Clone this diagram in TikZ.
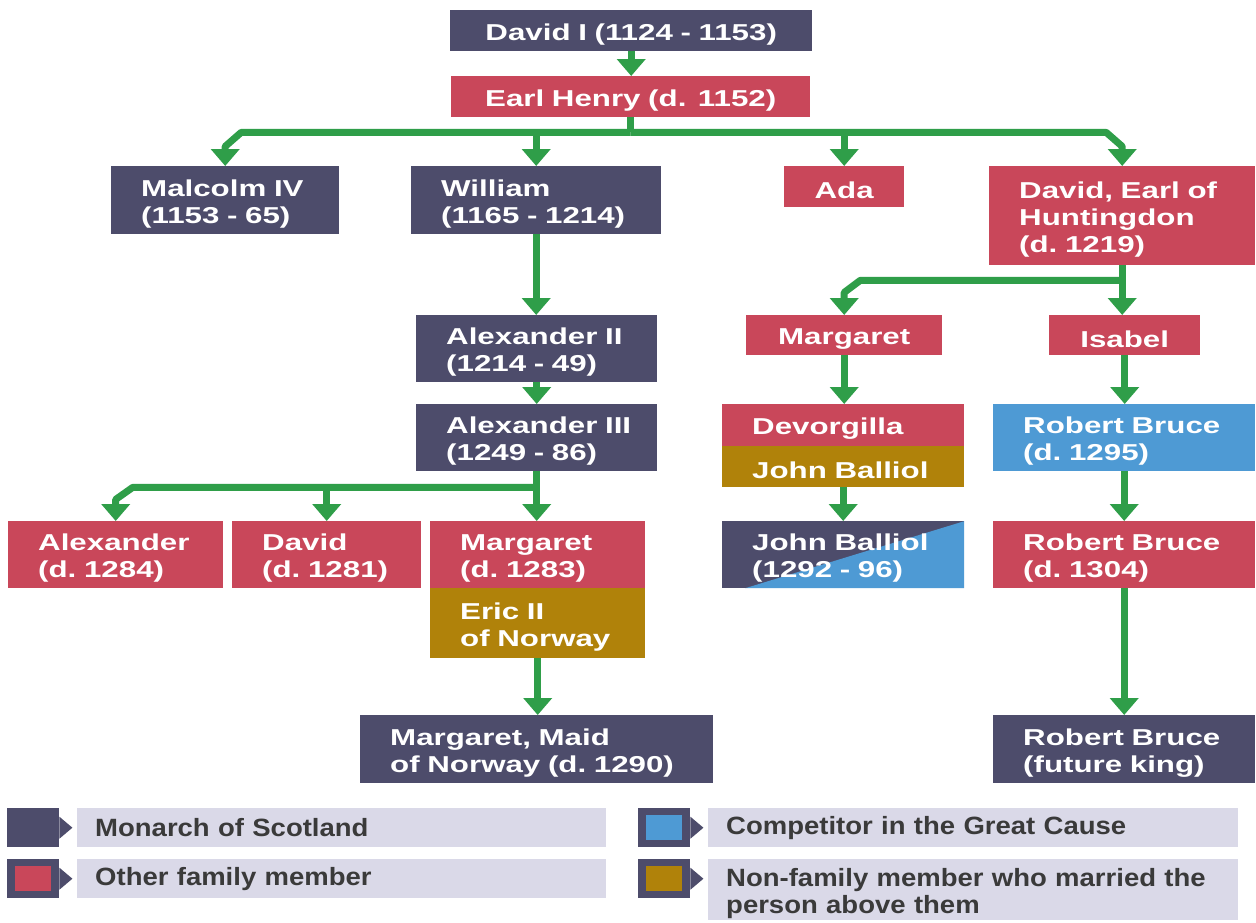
\documentclass[tikz,border=0pt]{standalone}
\usepackage{fontspec}
\newfontfamily\boxfont{Liberation Sans}[FakeStretch=1.36]
\newfontfamily\legfont{Liberation Sans}[FakeStretch=1.1]
\usetikzlibrary{arrows.meta,calc}
\definecolor{navy}{HTML}{4D4C6B}
\definecolor{fam}{HTML}{C9475A}
\definecolor{comp}{HTML}{4E9AD4}
\definecolor{gold}{HTML}{B0820A}
\definecolor{grn}{HTML}{2F9E49}
\definecolor{lav}{HTML}{DAD9E8}
\definecolor{legtext}{HTML}{3A3A3A}
\tikzset{
  pbox/.style={rectangle, anchor=north west, inner xsep=30pt, inner ysep=0pt, text=white,
    font=\boxfont\bfseries\fontsize{23}{27}\selectfont, align=left,
    execute at begin node={\rule{0pt}{24pt}}},
  cbox/.style={pbox, align=center, inner xsep=0pt},
  conn/.style={draw=grn, line width=7pt, line join=round},
  arr/.style={conn, -{Triangle[width=28pt,length=17pt]}},
  legmark/.style={rectangle, anchor=north west, fill=navy, minimum width=52pt, minimum height=39pt, inner sep=0pt},
  inner/.style={path picture={\fill[#1] ([shift={(8pt,-7pt)}]path picture bounding box.north west) rectangle ([shift={(-8pt,7pt)}]path picture bounding box.south east);}},
  leglab/.style={rectangle, anchor=north west, fill=lav, inner xsep=18pt, inner ysep=0pt, text=legtext,
    font=\legfont\bfseries\fontsize{25}{27}\selectfont, align=left},
}
\begin{document}
\begin{tikzpicture}[x=1pt,y=-1pt]
\useasboundingbox[fill=white] (0,0) rectangle (1256,922);
% ---- people ----
\node[cbox, fill=navy, text width=362pt, minimum height=41pt] (davidI) at (450,10) {David I (1124 - 1153)};
\node[cbox, fill=fam, text width=359pt, minimum height=41pt] (henry) at (451,76) {Earl Henry (d. 1152)};
\node[pbox, fill=navy, text width=168pt, minimum height=68pt] (malcolm) at (111,166) {Malcolm~IV\\(1153~-~65)};
\node[pbox, fill=navy, text width=190pt, minimum height=68pt] (william) at (411,166) {William\\(1165~-~1214)};
\node[cbox, fill=fam, text width=120pt, minimum height=41pt] (ada) at (784,166) {Ada};
\node[pbox, fill=fam, text width=206pt, minimum height=99pt] (hunt) at (989,166) {David,~Earl~of\\Huntingdon\\(d.~1219)};
\node[cbox, fill=fam, text width=196pt, minimum height=40pt] (margA) at (746,315) {Margaret};
\node[cbox, fill=fam, text width=151pt, minimum height=40pt] (isabel) at (1049,315) {Isabel};
\node[pbox, fill=navy, text width=181pt, minimum height=67pt] (alex2) at (416,315) {Alexander~II\\(1214~-~49)};
\node[pbox, fill=navy, text width=181pt, minimum height=67pt] (alex3) at (416,404) {Alexander~III\\(1249~-~86)};
\node[pbox, fill=fam, text width=182pt, minimum height=42pt] (devor) at (722,404) {Devorgilla};
\node[pbox, fill=gold, text width=182pt, minimum height=41pt] (jb1) at (722,446) {John~Balliol};
\node[pbox, fill=comp, text width=202pt, minimum height=67pt] (rb1) at (993,404) {Robert~Bruce\\(d.~1295)};
\node[pbox, fill=fam, text width=155pt, minimum height=67pt] (alexander) at (8,521) {Alexander\\(d.~1284)};
\node[pbox, fill=fam, text width=129pt, minimum height=67pt] (david) at (232,521) {David\\(d.~1281)};
\node[pbox, fill=fam, text width=155pt, minimum height=67pt] (margB) at (430,521) {Margaret\\(d.~1283)};
\node[pbox, fill=gold, text width=155pt, minimum height=70pt] (eric) at (430,588) {Eric~II\\of~Norway};
\node[pbox, fill=navy, text width=182pt, minimum height=67pt,
  path picture={\fill[comp] ($(path picture bounding box.south west)+(23,0)$) -- (path picture bounding box.north east) -- (path picture bounding box.south east) -- cycle;}] (jb2) at (722,521) {John~Balliol\\(1292~-~96)};
\node[pbox, fill=fam, text width=202pt, minimum height=67pt] (rb2) at (993,521) {Robert~Bruce\\(d.~1304)};
\node[pbox, fill=navy, text width=293pt, minimum height=68pt] (maid) at (360,715) {Margaret,~Maid\\of~Norway~(d.~1290)};
\node[pbox, fill=navy, text width=202pt, minimum height=68pt] (rb3) at (993,715) {Robert~Bruce\\(future~king)};
% ---- connectors ----
\draw[arr] (davidI.south) -- (davidI.south |- henry.north);
\coordinate (hb) at ($(henry.south)+(0,15)$);
\draw[conn] (henry.south) -- (hb);
\draw[arr] (hb) -- ($(malcolm.north |- hb)+(16,0)$) -- ($(malcolm.north |- hb)+(0,14)$) -- (malcolm.north);
\draw[arr] (william.north |- hb) -- (william.north);
\draw[arr] (ada.north |- hb) -- (ada.north);
\draw[arr] (hb) -- ($(hunt.north |- hb)+(-16,0)$) -- ($(hunt.north |- hb)+(0,14)$) -- (hunt.north);
\coordinate (hub) at ($(hunt.south)+(0,15)$);
\draw[arr] (hunt.south) -- (hunt.south |- isabel.north);
\draw[arr] (hub) -- ($(margA.north |- hub)+(16,0)$) -- ($(margA.north |- hub)+(0,12)$) -- (margA.north);
\draw[arr] (william.south) -- (william.south |- alex2.north);
\draw[arr] (alex2.south) -- (alex2.south |- alex3.north);
\coordinate (ab) at ($(alex3.south)+(0,16)$);
\draw[arr] (alex3.south) -- (alex3.south |- margB.north);
\draw[arr] (ab) -- ($(alexander.north |- ab)+(17,0)$) -- ($(alexander.north |- ab)+(0,12)$) -- (alexander.north);
\draw[arr] (david.north |- ab) -- (david.north);
\draw[arr] (eric.south) -- (eric.south |- maid.north);
\draw[arr] (margA.south) -- (margA.south |- devor.north);
\draw[arr] (jb1.south) -- (jb1.south |- jb2.north);
\draw[arr] (isabel.south) -- (isabel.south |- rb1.north);
\draw[arr] (rb1.south) -- (rb1.south |- rb2.north);
\draw[arr] (rb2.south) -- (rb2.south |- rb3.north);
% ---- legend ----
\node[legmark] (lm1) at (7,808) {};
\node[legmark, inner=fam] (lm2) at (7,859) {};
\node[legmark, inner=comp] (lm3) at (638,808) {};
\node[legmark, inner=gold] (lm4) at (638,859) {};
\foreach \m in {lm1,lm2,lm3,lm4}{
  \fill[navy] ($(\m.east)+(0,-11)$) -- ($(\m.east)+(13,0)$) -- ($(\m.east)+(0,11)$) -- cycle;
}
\node[leglab, text width=493pt, minimum height=39pt] (ll1) at (77,808) {Monarch of Scotland};
\node[leglab, text width=493pt, minimum height=39pt] (ll2) at (77,859) {Other family member};
\node[leglab, text width=494pt, minimum height=39pt] (ll3) at (708,808) {Competitor in the Great Cause};
\node[leglab, text width=494pt, minimum height=61pt] (ll4) at (708,859) {\rule{0pt}{26pt}Non-family member who married the\\person above them};
\end{tikzpicture}
\end{document}
